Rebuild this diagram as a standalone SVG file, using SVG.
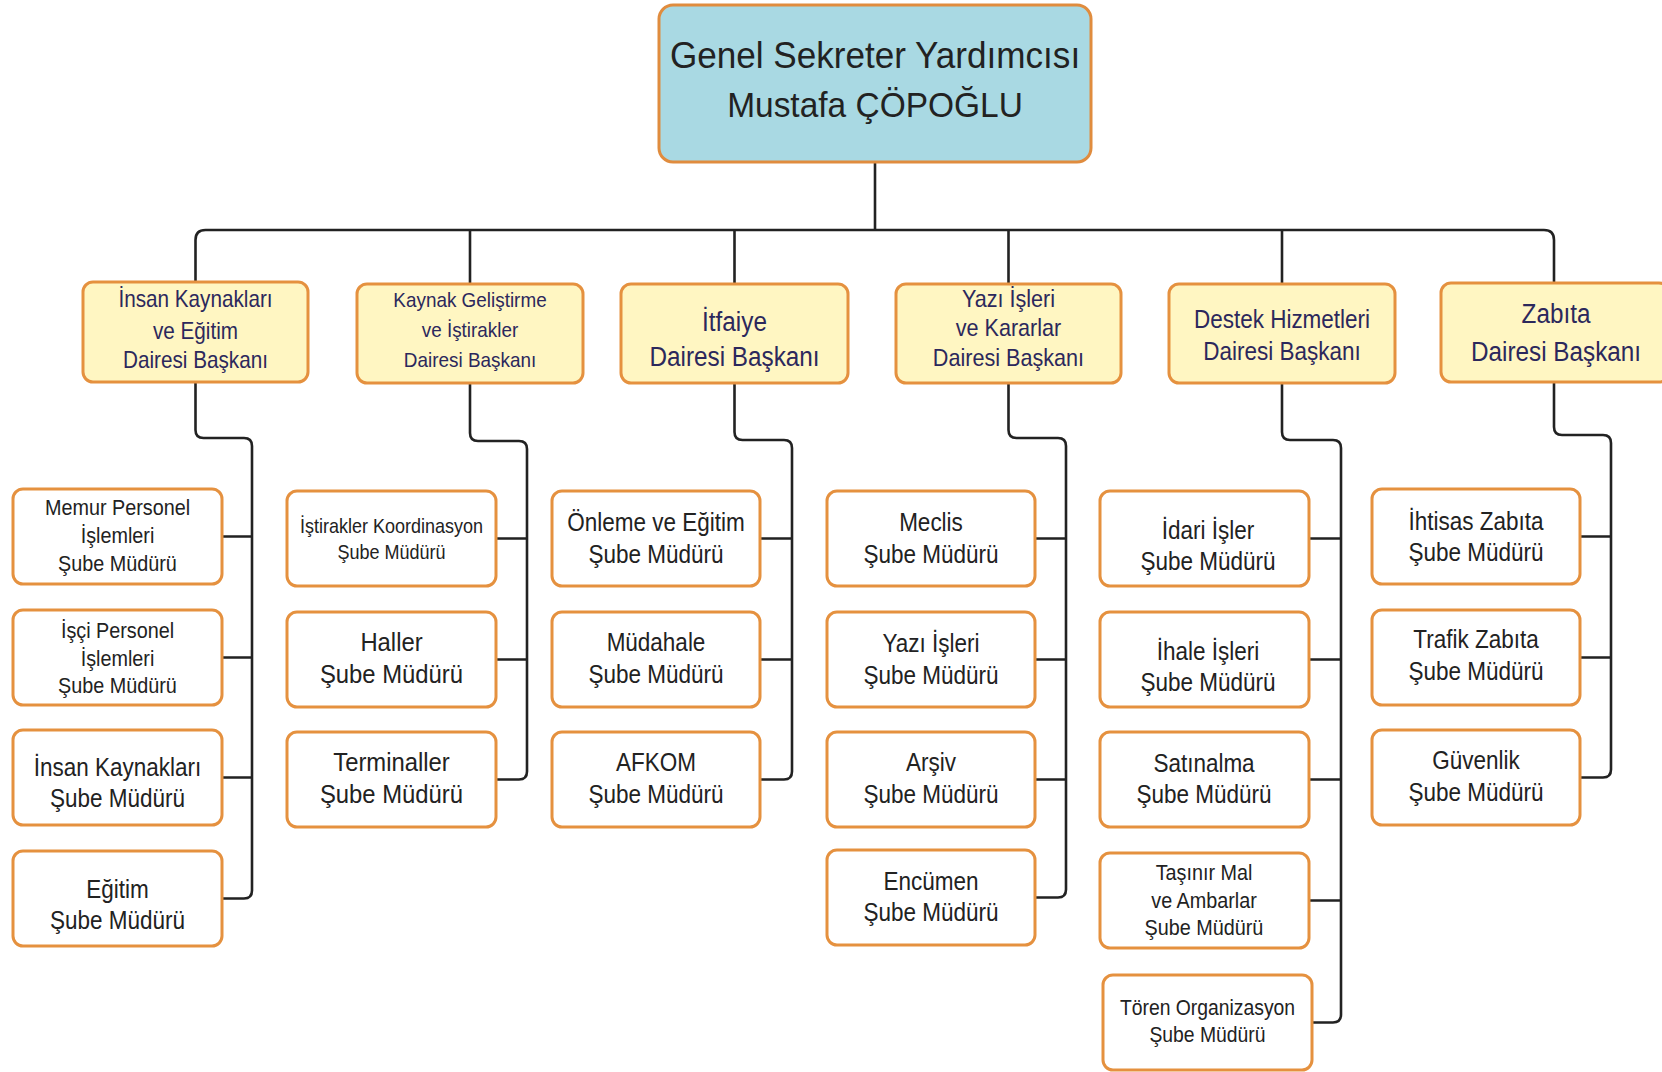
<svg xmlns="http://www.w3.org/2000/svg" width="1662" height="1072" viewBox="0 0 1662 1072">
<style>
text{font-family:"Liberation Sans",Arial,sans-serif;text-anchor:middle}
.top rect{fill:#A9D9E3;stroke:#E08C3E;stroke-width:3}
.d rect{fill:#FFF6C2;stroke:#E5913F;stroke-width:3}
.s rect{fill:#FFFFFF;stroke:#E5913F;stroke-width:3}
.tt{fill:#222;font-size:36px}
.t2{fill:#2C285C}
.t3{fill:#222}
.f20{font-size:20px}
.f21{font-size:21.5px}
.f22{font-size:22px}
.f25{font-size:25px}
.f26{font-size:26.5px}
.conn path{fill:none;stroke:#222;stroke-width:2.6;stroke-linejoin:round}
</style>
<rect width="1662" height="1072" fill="#fff"/>
<g class="conn" id="connectors">
<path d="M875 162 V230"/>
<path d="M195.5 283 V240 Q195.5 230 205.5 230 H1544 Q1554 230 1554 240 V283"/>
<path d="M470 230 V285 M734.5 230 V285 M1008.5 230 V285 M1282 230 V285"/>
<path d="M195.5 382 V430 Q195.5 438 203.5 438 H244 Q252 438 252 446 V890.5 Q252 898.5 244 898.5 H222 M222 536.5 H252 M222 657.5 H252 M222 777.5 H252"/>
<path d="M470 383 V433 Q470 441 478 441 H519 Q527 441 527 449 V771.5 Q527 779.5 519 779.5 H496 M496 538.5 H527 M496 659.5 H527"/>
<path d="M734.5 383 V432 Q734.5 440 742.5 440 H784 Q792 440 792 448 V771.5 Q792 779.5 784 779.5 H760 M760 538.5 H792 M760 659.5 H792"/>
<path d="M1008.5 383 V430 Q1008.5 438 1016.5 438 H1058 Q1066 438 1066 446 V889.5 Q1066 897.5 1058 897.5 H1035 M1035 538.5 H1066 M1035 659.5 H1066 M1035 779.5 H1066"/>
<path d="M1282 383 V432 Q1282 440 1290 440 H1333 Q1341 440 1341 448 V1014.5 Q1341 1022.5 1333 1022.5 H1312 M1309 538.5 H1341 M1309 659.5 H1341 M1309 779.5 H1341 M1309 900.5 H1341"/>
<path d="M1554 382 V427 Q1554 435 1562 435 H1603 Q1611 435 1611 443 V769.5 Q1611 777.5 1603 777.5 H1580 M1580 536.5 H1611 M1580 657.5 H1611"/>
</g>
<g id="gsy" class="top">
<rect x="659" y="5" width="432" height="157" rx="14"/>
<text class="tt" transform="translate(875 0) scale(.975 1)" y="68">Genel Sekreter Yardımcısı</text>
<text class="tt" transform="translate(875 0) scale(.93 1)" y="117">Mustafa ÇÖPOĞLU</text>
</g>
<g id="d1" class="d">
<rect x="83" y="282" width="225" height="100" rx="10"/>
<text class="t2" font-size="23" transform="translate(195.5 0) scale(.9 1)"><tspan x="0" y="307">İnsan Kaynakları</tspan><tspan x="0" y="339">ve Eğitim</tspan><tspan x="0" y="368">Dairesi Başkanı</tspan></text>
</g>
<g id="d2" class="d">
<rect x="357" y="284" width="226" height="99" rx="10"/>
<text class="t2" font-size="21" transform="translate(470 0) scale(.9 1)"><tspan x="0" y="307">Kaynak Geliştirme</tspan><tspan x="0" y="337">ve İştirakler</tspan><tspan x="0" y="367">Dairesi Başkanı</tspan></text>
</g>
<g id="d3" class="d">
<rect x="621" y="284" width="227" height="99" rx="10"/>
<text class="t2" font-size="27" transform="translate(734.5 0) scale(.9 1)"><tspan x="0" y="331">İtfaiye</tspan><tspan x="0" y="366">Dairesi Başkanı</tspan></text>
</g>
<g id="d4" class="d">
<rect x="896" y="284" width="225" height="99" rx="10"/>
<text class="t2" font-size="24" transform="translate(1008.5 0) scale(.9 1)"><tspan x="0" y="307">Yazı İşleri</tspan><tspan x="0" y="336">ve Kararlar</tspan><tspan x="0" y="366">Dairesi Başkanı</tspan></text>
</g>
<g id="d5" class="d">
<rect x="1169" y="284" width="226" height="99" rx="10"/>
<text class="t2" font-size="25" transform="translate(1282 0) scale(.9 1)"><tspan x="0" y="328">Destek Hizmetleri</tspan><tspan x="0" y="360">Dairesi Başkanı</tspan></text>
</g>
<g id="d6" class="d">
<rect x="1441" y="283" width="228" height="99" rx="10"/>
<text class="t2" font-size="27" transform="translate(1556 0) scale(.9 1)"><tspan x="0" y="323">Zabıta</tspan><tspan x="0" y="361">Dairesi Başkanı</tspan></text>
</g>
<g id="s1a" class="s"><rect x="13" y="489" width="209" height="95" rx="10"/>
<text class="t3 f22" transform="translate(117.5 0) scale(.9 1)"><tspan x="0" y="515">Memur Personel</tspan><tspan x="0" y="543">İşlemleri</tspan><tspan x="0" y="571">Şube Müdürü</tspan></text></g>
<g id="s1b" class="s"><rect x="13" y="610" width="209" height="95" rx="10"/>
<text class="t3 f22" transform="translate(117.5 0) scale(.9 1)"><tspan x="0" y="638">İşçi Personel</tspan><tspan x="0" y="666">İşlemleri</tspan><tspan x="0" y="693">Şube Müdürü</tspan></text></g>
<g id="s1c" class="s"><rect x="13" y="730" width="209" height="95" rx="10"/>
<text class="t3 f25" transform="translate(117.5 0) scale(.9 1)"><tspan x="0" y="776">İnsan Kaynakları</tspan><tspan x="0" y="807">Şube Müdürü</tspan></text></g>
<g id="s1d" class="s"><rect x="13" y="851" width="209" height="95" rx="10"/>
<text class="t3 f25" transform="translate(117.5 0) scale(.9 1)"><tspan x="0" y="898">Eğitim</tspan><tspan x="0" y="929">Şube Müdürü</tspan></text></g>
<g id="s2a" class="s"><rect x="287" y="491" width="209" height="95" rx="10"/>
<text class="t3 f20" transform="translate(391.5 0) scale(.9 1)"><tspan x="0" y="533">İştirakler Koordinasyon</tspan><tspan x="0" y="559">Şube Müdürü</tspan></text></g>
<g id="s2b" class="s"><rect x="287" y="612" width="209" height="95" rx="10"/>
<text class="t3 f26" transform="translate(391.5 0) scale(.9 1)"><tspan x="0" y="651">Haller</tspan><tspan x="0" y="683">Şube Müdürü</tspan></text></g>
<g id="s2c" class="s"><rect x="287" y="732" width="209" height="95" rx="10"/>
<text class="t3 f26" transform="translate(391.5 0) scale(.9 1)"><tspan x="0" y="771">Terminaller</tspan><tspan x="0" y="803">Şube Müdürü</tspan></text></g>
<g id="s3a" class="s"><rect x="552" y="491" width="208" height="95" rx="10"/>
<text class="t3 f25" transform="translate(656 0) scale(.9 1)"><tspan x="0" y="531">Önleme ve Eğitim</tspan><tspan x="0" y="563">Şube Müdürü</tspan></text></g>
<g id="s3b" class="s"><rect x="552" y="612" width="208" height="95" rx="10"/>
<text class="t3 f25" transform="translate(656 0) scale(.9 1)"><tspan x="0" y="651">Müdahale</tspan><tspan x="0" y="683">Şube Müdürü</tspan></text></g>
<g id="s3c" class="s"><rect x="552" y="732" width="208" height="95" rx="10"/>
<text class="t3 f25" transform="translate(656 0) scale(.9 1)"><tspan x="0" y="771">AFKOM</tspan><tspan x="0" y="803">Şube Müdürü</tspan></text></g>
<g id="s4a" class="s"><rect x="827" y="491" width="208" height="95" rx="10"/>
<text class="t3 f25" transform="translate(931 0) scale(.9 1)"><tspan x="0" y="531">Meclis</tspan><tspan x="0" y="563">Şube Müdürü</tspan></text></g>
<g id="s4b" class="s"><rect x="827" y="612" width="208" height="95" rx="10"/>
<text class="t3 f25" transform="translate(931 0) scale(.9 1)"><tspan x="0" y="652">Yazı İşleri</tspan><tspan x="0" y="684">Şube Müdürü</tspan></text></g>
<g id="s4c" class="s"><rect x="827" y="732" width="208" height="95" rx="10"/>
<text class="t3 f25" transform="translate(931 0) scale(.9 1)"><tspan x="0" y="771">Arşiv</tspan><tspan x="0" y="803">Şube Müdürü</tspan></text></g>
<g id="s4d" class="s"><rect x="827" y="850" width="208" height="95" rx="10"/>
<text class="t3 f25" transform="translate(931 0) scale(.9 1)"><tspan x="0" y="890">Encümen</tspan><tspan x="0" y="921">Şube Müdürü</tspan></text></g>
<g id="s5a" class="s"><rect x="1100" y="491" width="209" height="95" rx="10"/>
<text class="t3 f25" transform="translate(1208 0) scale(.9 1)"><tspan x="0" y="539">İdari İşler</tspan><tspan x="0" y="570">Şube Müdürü</tspan></text></g>
<g id="s5b" class="s"><rect x="1100" y="612" width="209" height="95" rx="10"/>
<text class="t3 f25" transform="translate(1208 0) scale(.9 1)"><tspan x="0" y="660">İhale İşleri</tspan><tspan x="0" y="691">Şube Müdürü</tspan></text></g>
<g id="s5c" class="s"><rect x="1100" y="732" width="209" height="95" rx="10"/>
<text class="t3 f25" transform="translate(1204 0) scale(.9 1)"><tspan x="0" y="772">Satınalma</tspan><tspan x="0" y="803">Şube Müdürü</tspan></text></g>
<g id="s5d" class="s"><rect x="1100" y="853" width="209" height="95" rx="10"/>
<text class="t3 f22" transform="translate(1204 0) scale(.9 1)"><tspan x="0" y="880">Taşınır Mal</tspan><tspan x="0" y="908">ve Ambarlar</tspan><tspan x="0" y="935">Şube Müdürü</tspan></text></g>
<g id="s5e" class="s"><rect x="1103" y="975" width="209" height="95" rx="10"/>
<text class="t3 f21" transform="translate(1207.5 0) scale(.9 1)"><tspan x="0" y="1015">Tören Organizasyon</tspan><tspan x="0" y="1042">Şube Müdürü</tspan></text></g>
<g id="s6a" class="s"><rect x="1372" y="489" width="208" height="95" rx="10"/>
<text class="t3 f25" transform="translate(1476 0) scale(.9 1)"><tspan x="0" y="530">İhtisas Zabıta</tspan><tspan x="0" y="561">Şube Müdürü</tspan></text></g>
<g id="s6b" class="s"><rect x="1372" y="610" width="208" height="95" rx="10"/>
<text class="t3 f25" transform="translate(1476 0) scale(.9 1)"><tspan x="0" y="648">Trafik Zabıta</tspan><tspan x="0" y="680">Şube Müdürü</tspan></text></g>
<g id="s6c" class="s"><rect x="1372" y="730" width="208" height="95" rx="10"/>
<text class="t3 f25" transform="translate(1476 0) scale(.9 1)"><tspan x="0" y="769">Güvenlik</tspan><tspan x="0" y="801">Şube Müdürü</tspan></text></g>
</svg>
